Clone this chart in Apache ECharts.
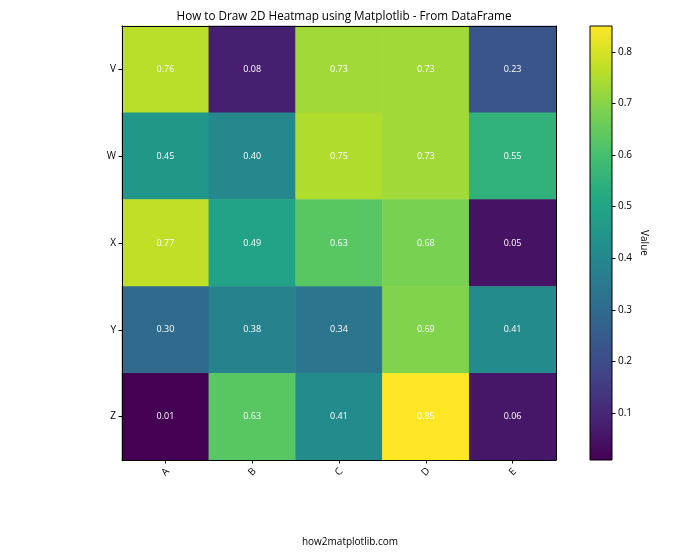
<!DOCTYPE html>
<html>
<head>
<meta charset="utf-8">
<script src="https://cdn.jsdelivr.net/npm/echarts@6/dist/echarts.min.js"></script>
<style>html,body{margin:0;padding:0;background:#fff;}#c{width:700px;height:560px;}</style>
</head>
<body>
<div id="c"></div>
<script>
const columns = ['A', 'B', 'C', 'D', 'E'];
const rows = ['V', 'W', 'X', 'Y', 'Z'];
const rowV = [0.76, 0.08, 0.73, 0.73, 0.23];
const rowW = [0.45, 0.40, 0.75, 0.73, 0.55];
const rowX = [0.77, 0.49, 0.63, 0.68, 0.05];
const rowY = [0.30, 0.38, 0.34, 0.69, 0.41];
const rowZ = [0.01, 0.63, 0.41, 0.85, 0.06];
const colorbarTicks = [0.1, 0.2, 0.3, 0.4, 0.5, 0.6, 0.7, 0.8];
const vMin = 0.009, vMax = 0.85;

const viridis = ['#440154','#482475','#414487','#355f8d','#2a788e','#21918c','#22a884','#44bf70','#7ad151','#bddf26','#fde725'];

const allRows = [rowV, rowW, rowX, rowY, rowZ];
const heatData = [];
allRows.forEach((r, i) => r.forEach((v, j) => heatData.push([j, i, v])));

const font = '"Open Sans", "DejaVu Sans", sans-serif';
const chart = echarts.init(document.getElementById('c'), null, {renderer: 'canvas'});

const gradStops = viridis.map((c, i) => ({offset: 1 - i / (viridis.length - 1), color: c}));
const frameLine = {show: true, onZero: false, lineStyle: {color: '#000', width: 1}};

chart.setOption({
  backgroundColor: '#fff',
  animation: false,
  title: {
    text: 'How to Draw 2D Heatmap using Matplotlib - From DataFrame',
    left: 339, top: 6, textAlign: 'center',
    textStyle: {fontFamily: font, fontSize: 11.7, fontWeight: 'normal', color: '#000'}
  },
  graphic: [{
    type: 'text', left: 'center', top: 537,
    style: {text: 'how2matplotlib.com', font: '10px ' + font, fill: '#000'}
  }],
  grid: [
    {left: 122, right: 144, top: 26, bottom: 100, show: false},
    {left: 590, right: 88, top: 26, bottom: 100, show: false}
  ],
  xAxis: [
    {type: 'category', data: columns, gridIndex: 0, position: 'bottom', z: 5,
     axisLine: frameLine,
     axisTick: {show: true, alignWithLabel: true, length: 3.5, lineStyle: {color: '#000'}},
     axisLabel: {rotate: 45, align: 'center', verticalAlign: 'middle', fontFamily: font, fontSize: 10, color: '#000', margin: 12},
     splitLine: {show: false}},
    {type: 'category', data: columns, gridIndex: 0, position: 'top', z: 5,
     axisLine: frameLine,
     axisTick: {show: false}, axisLabel: {show: false}},
    {type: 'category', data: ['cb'], gridIndex: 1, boundaryGap: false,
     axisLine: {show: false}, axisTick: {show: false}, axisLabel: {show: false}}
  ],
  yAxis: [
    {type: 'category', data: rows, gridIndex: 0, inverse: true, z: 5,
     axisLine: frameLine,
     axisTick: {show: true, alignWithLabel: true, length: 3.5, lineStyle: {color: '#000'}},
     axisLabel: {fontFamily: font, fontSize: 10, color: '#000', margin: 6},
     splitLine: {show: false}},
    {type: 'category', data: rows, gridIndex: 0, inverse: true, position: 'right', z: 5,
     axisLine: frameLine,
     axisTick: {show: false}, axisLabel: {show: false}},
    {type: 'value', gridIndex: 1, position: 'right', min: vMin, max: vMax,
     name: 'Value', nameLocation: 'middle', nameRotate: -90, nameGap: 27,
     nameTextStyle: {fontFamily: font, fontSize: 10, color: '#000'},
     axisLine: {show: false},
     axisTick: {show: true, length: 3.5, lineStyle: {color: '#000'}, customValues: colorbarTicks},
     axisLabel: {fontFamily: font, fontSize: 10, color: '#000', margin: 6, customValues: colorbarTicks,
       formatter: v => v.toFixed(1)},
     splitLine: {show: false}}
  ],
  visualMap: {
    show: false, type: 'continuous', min: vMin, max: vMax, seriesIndex: 0, dimension: 2,
    inRange: {color: viridis}
  },
  series: [
    {type: 'heatmap', xAxisIndex: 0, yAxisIndex: 0, data: heatData,
     label: {show: true, color: '#fff', fontFamily: font, fontSize: 9,
       formatter: p => p.value[2].toFixed(2)},
     itemStyle: {borderWidth: 0}},
    {type: 'custom', xAxisIndex: 2, yAxisIndex: 2, data: [[0, vMin, vMax]],
     renderItem: function (params, api) {
       const p1 = api.coord([0, api.value(2)]);
       const p2 = api.coord([0, api.value(1)]);
       const cs = params.coordSys;
       return {
         type: 'rect',
         shape: {x: cs.x, y: p1[1], width: cs.width, height: p2[1] - p1[1]},
         style: {
           fill: new echarts.graphic.LinearGradient(0, 0, 0, 1, gradStops),
           stroke: '#000', lineWidth: 1
         }
       };
     }}
  ]
});
</script>
</body>
</html>
